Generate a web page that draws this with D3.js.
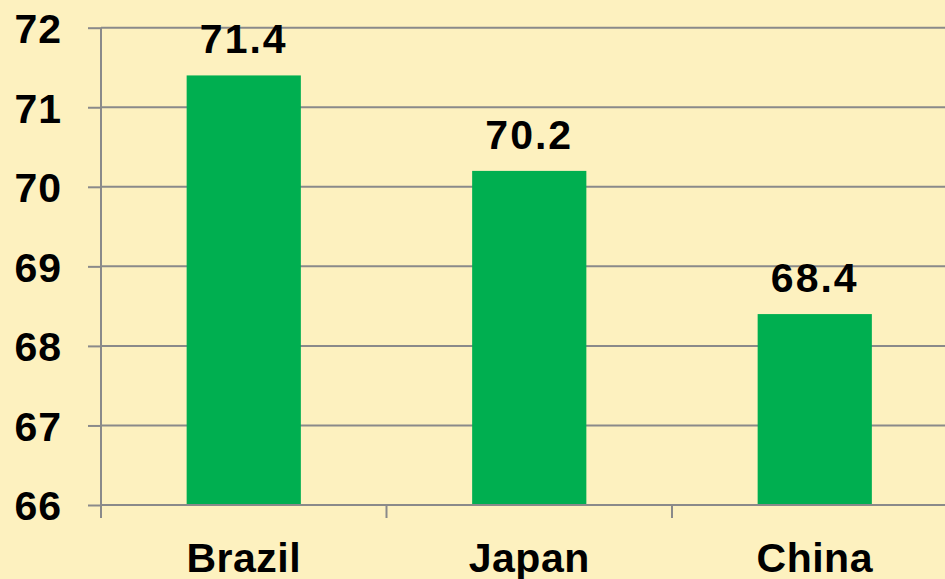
<!DOCTYPE html>
<html><head><meta charset="utf-8">
<script src="https://cdn.jsdelivr.net/npm/d3@7"></script>
<style>html,body{margin:0;padding:0;background:#FDF1BF;}svg{display:block;}</style>
</head><body>
<script>
const categories = ["Brazil", "Japan", "China"];
const values = [71.4, 70.2, 68.4];
const yTicks = [66, 67, 68, 69, 70, 71, 72];

const W = 945, H = 579;
const mLeft = 101, mTop = 27.7, mBottom = 505, mRight = 101 + 3 * 285.5;
const svg = d3.select("body").append("svg").attr("width", W).attr("height", H);
svg.append("rect").attr("width", W).attr("height", H).attr("fill", "#FDF1BF");

const x = d3.scaleBand().domain(categories).range([mLeft, mRight]).paddingInner(0.6).paddingOuter(0.3);
const y = d3.scaleLinear().domain([66, 72]).range([mBottom, mTop]);
const grid = "#8a8a8a";
const font = "'Liberation Sans', Arial, sans-serif";
const fs = 41;

// gridlines
svg.append("g").selectAll("line").data(yTicks.slice(1)).join("line")
  .attr("x1", mLeft).attr("x2", W).attr("y1", d => y(d)).attr("y2", d => y(d))
  .attr("stroke", grid).attr("stroke-width", 2);

// bars
svg.append("g").selectAll("rect").data(values).join("rect")
  .attr("x", (d, i) => x(categories[i])).attr("width", x.bandwidth())
  .attr("y", d => y(d)).attr("height", d => y(66) - y(d))
  .attr("fill", "#00AF50");

// y axis
const ya = svg.append("g").attr("transform", `translate(${mLeft},0)`)
  .call(d3.axisLeft(y).tickValues(yTicks).tickSize(13).tickPadding(26).tickFormat(d3.format("d")));
ya.select(".domain").attr("stroke", grid).attr("stroke-width", 2).attr("d", `M0,${mTop}V${mBottom}`);
ya.selectAll(".tick line").attr("stroke", grid).attr("stroke-width", 2);
ya.selectAll(".tick text").attr("font-family", font).attr("font-weight", "bold")
  .attr("font-size", fs).attr("fill", "#000").attr("dy", "0.36em").attr("letter-spacing", 1);

// x axis
const xa = svg.append("g").attr("transform", `translate(0,${mBottom})`)
  .call(d3.axisBottom(x).tickSize(0).tickPadding(38));
xa.select(".domain").attr("stroke", grid).attr("stroke-width", 2).attr("d", `M${mLeft},0H${W}`);
xa.selectAll(".tick text").attr("font-family", font).attr("font-weight", "bold")
  .attr("font-size", fs).attr("fill", "#000").attr("letter-spacing", 0.5);
// category separator ticks
const seps = d3.range(categories.length + 1).map(i => mLeft + i * x.step());
xa.append("g").selectAll("line").data(seps).join("line")
  .attr("x1", d => d).attr("x2", d => d).attr("y1", 0).attr("y2", 13)
  .attr("stroke", grid).attr("stroke-width", 2);

// value labels
svg.append("g").selectAll("text").data(values).join("text")
  .attr("x", (d, i) => x(categories[i]) + x.bandwidth() / 2)
  .attr("y", d => y(d) - 22)
  .attr("text-anchor", "middle").attr("font-family", font).attr("font-weight", "bold")
  .attr("font-size", fs).attr("fill", "#000").attr("letter-spacing", 2)
  .text(d => d3.format(".1f")(d));
</script>
</body></html>
